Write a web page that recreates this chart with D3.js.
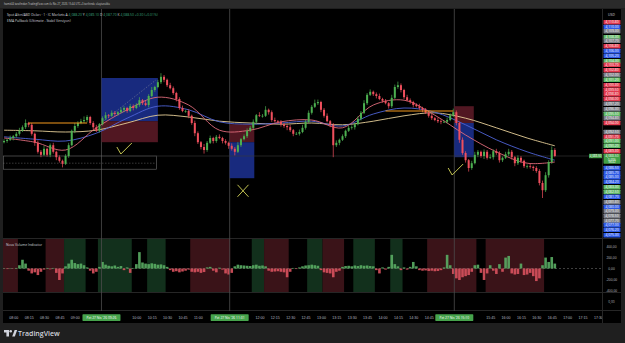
<!DOCTYPE html>
<html>
<head>
<meta charset="utf-8">
<script src="https://cdn.jsdelivr.net/npm/d3@7"></script>
<style>
html, body {margin: 0; padding: 0; background: #1f1f1f;}
svg {display: block; font-family: "Open Sans", "Noto Sans", sans-serif;}
</style>
</head>
<body>
<div class="chart"></div>
<script>
let FRAME_WIDTH = 625;
let FRAME_HEIGHT = 343;
let PLOT = {left: 3, right: 602, top: 9, bottom: 238};
let IND = {top: 239, bottom: 292};

// 3 minute candles, first one 07:51
const closes = [
  4091.0,4091.2,4091.5,4091.8,4092.2,4092.7,4093.3,4094.0,4093.7,4092.2,4090.7,4089.2,4088.7,4089.7,4088.7,4090.3,4089.2,4088.3,4087.7,4087.2,
  4088.5,4090.3,4092.7,4093.5,4094.0,4094.3,4094.5,4095.0,4094.0,4093.3,4092.7,4093.8,4094.8,4095.3,4095.2,4095.7,4095.5,4095.8,4096.2,4096.5,
  4096.0,4096.8,4096.5,4097.0,4097.8,4097.3,4097.0,4098.5,4099.5,4100.0,4100.8,4101.7,4101.2,4100.3,4099.8,4099.0,4098.0,4096.5,4096.0,4096.0,
  4095.2,4094.0,4092.3,4090.8,4090.0,4089.5,4090.7,4091.5,4091.0,4091.7,4091.5,4091.0,4090.7,4090.2,4089.7,4089.2,4090.3,4091.3,4091.8,4092.7,
  4093.2,4094.2,4095.3,4095.2,4095.2,4096.2,4095.8,4094.5,4094.3,4094.2,4093.8,4093.5,4093.3,4092.8,4092.2,4092.2,4092.5,4093.2,4094.2,4095.7,
  4096.7,4097.3,4097.5,4096.2,4095.2,4094.3,4093.7,4090.3,4090.7,4091.2,4091.8,4092.7,4093.2,4093.3,4093.8,4094.7,4095.7,4097.3,4098.7,4099.2,
  4098.8,4098.5,4098.0,4097.7,4097.3,4096.8,4098.2,4100.0,4100.3,4099.5,4098.3,4097.8,4097.5,4097.0,4096.8,4096.5,4096.2,4095.7,4095.2,4094.8,
  4094.5,4094.3,4094.2,4094.2,4094.5,4095.3,4095.8,4094.0,4091.2,4089.0,4087.8,4086.5,4087.3,4088.7,4089.2,4088.5,4089.2,4088.2,4088.3,4089.3,
  4089.0,4087.8,4088.2,4088.8,4089.2,4088.3,4087.3,4088.2,4087.7,4086.8,4086.8,4086.7,4086.5,4086.0,4084.0,4082.8,4085.3,4087.5,4089.5,4088.5
];
// wick length above / below the body, in tenths of a dollar
const wickUp = [
  3,2,4,2,3,5,3,6,2,3,2,4,3,5,2,3,4,2,3,2,
  3,4,2,5,3,4,6,3,2,3,4,2,3,5,2,4,3,2,4,3,
  2,4,3,3,5,2,4,3,5,2,4,6,3,2,4,3,2,3,4,2,
  3,2,4,3,2,5,3,4,2,3,4,2,3,2,4,3,5,2,3,4,
  3,4,2,5,3,6,2,3,4,2,3,2,3,4,2,3,4,5,3,4,
  3,6,4,2,3,4,2,3,4,2,3,2,4,3,2,4,3,5,3,4,
  2,3,4,2,3,2,5,4,6,3,2,4,3,2,3,4,2,3,2,3,
  2,4,3,2,4,3,6,3,2,4,3,2,4,5,3,2,4,3,5,3,
  4,3,2,4,5,3,2,4,3,2,3,4,2,3,3,4,5,3,6,3
];
const wickDn = [
  2,3,2,4,2,3,2,3,4,3,5,3,4,2,3,4,3,5,3,6,
  2,3,2,4,3,2,3,4,3,5,2,3,2,3,4,2,3,3,2,4,
  3,2,4,2,3,3,2,4,2,3,2,3,4,3,2,3,4,3,2,3,
  4,3,5,3,4,6,3,2,4,3,2,4,3,5,3,6,2,3,2,3,
  2,3,4,2,3,2,4,3,2,3,4,3,5,3,4,2,3,2,3,2,
  3,2,3,4,3,2,4,20,3,4,2,3,2,3,4,2,3,2,3,2,
  3,4,2,3,2,4,3,2,3,4,3,2,3,4,2,3,4,2,3,3,
  2,3,4,2,3,2,3,4,5,3,4,6,3,2,4,3,5,3,2,4,
  3,4,3,2,3,4,5,3,4,3,4,3,5,3,4,13,3,4,3,2
];

// volume indicator
const volFlow = [
  5,-10,8,-5,10,60,160,90,-40,-90,-70,-120,-60,-20,10,-15,10,-80,-210,-90,
  40,90,160,100,80,90,60,20,-40,-90,-60,30,120,70,50,40,55,30,45,-30,
  20,-80,10,80,300,110,90,80,95,85,70,75,60,30,-30,-60,-50,-70,-55,-40,
  -20,-60,-70,-60,-80,-65,20,30,-40,-70,15,-20,-90,-110,-80,40,70,60,55,50,
  45,60,70,50,55,40,-40,-60,-55,-50,-60,-70,-160,-60,10,-10,20,40,55,60,
  70,60,50,-30,-70,-80,-90,-160,-60,-40,30,45,50,40,55,45,60,50,55,45,
  40,-30,-90,20,-20,30,250,80,40,-30,20,-20,30,120,40,-30,-40,-35,-45,-40,
  -50,-45,-30,20,250,60,-100,-180,-210,-160,-140,-120,-60,60,70,-80,-210,-90,60,-40,
  -100,80,-60,200,230,-90,-110,-100,90,-120,-110,-80,-140,-230,-180,60,200,120,210,90
];
const bandStart = [0,14,20,31,47,61,81,85,99,104,114,126,138,157];
const bandEnd   = [5,20,27,42,53,74,85,93,104,111,121,130,154,176];
const bandKind  = ["d","d","u","u","u","d","u","d","u","d","u","u","d","d"];
const indTicks = [400, 200, 0, -200, -400];

// EMA lines, sampled at candle indices
const emaIdx  = [0,10,20,30,40,50,60,70,80,90,100,110,120,130,140,150,160,170,179];
const emaSlow = [4092.8,4092.7,4092.5,4092.8,4094.0,4095.3,4095.0,4094.3,4094.0,4093.8,4094.0,4093.7,4094.3,4095.2,4095.7,4094.8,4093.2,4091.5,4090.2];
const emaMid  = [4091.7,4091.3,4091.0,4092.3,4094.8,4096.8,4096.2,4094.2,4093.8,4094.0,4094.3,4093.5,4095.5,4096.5,4095.8,4093.7,4091.2,4089.2,4087.8];
const emaFast = [4091.5,4090.8,4089.5,4093.2,4096.2,4098.3,4097.0,4092.8,4092.8,4094.2,4094.5,4093.2,4097.0,4097.8,4095.3,4092.0,4089.2,4087.3,4087.5];

// orange levels
const levelFrom  = [8, 124];
const levelTo    = [27, 146];
const levelPrice = [4094.0, 4096.0];

// position tools
const posStart  = ["09:26", "11:31", "15:10"];
const posEnd    = ["10:21", "11:55", "15:29"];
const posTop    = [4101.5, 4093.8, 4096.8];
const posEntry  = [4094.3, 4090.8, 4094.0];
const posBottom = [4090.8, 4084.8, 4088.3];
const posSide   = ["long", "short", "short"];

const vLines = ["09:26", "11:31", "15:10"];
const vLineLabels = ["Pzt 27 Nis '26 09:26", "Pzt 27 Nis '26 11:31", "Pzt 27 Nis '26 15:10"];

// price scale labels on the right
const axisPrices = [4110.80,4110.00,4109.30,4108.30,4107.70,4106.80,4106.00,4105.20,4104.30,4103.70,4102.80,4102.00,4101.20,4100.30,4099.50,4098.80,4098.00,4097.20,4096.30,4095.50,4094.80,4094.00,
  4092.50,4091.70,4091.00,4090.20,4089.30,4086.50,4085.70,4085.00,4084.20,4083.30,4082.50,4081.70,4080.80,4080.00,4079.30,4078.50,4077.70,4077.00,4076.20,4075.30];
const axisColors = ["r","b","k","g","k","r","b","b","g","r","r","k","g","r","r","r","r","k","k","g","k","r",
  "k","r","g","g","r","b","b","b","b","g","g","b","k","b","k","k","k","b","b","b"];
const COLORS = {r: "#e23a4e", b: "#2f5be6", g: "#5fb866", k: "#7d7f88"};

// rectangle, lower left
const boxFrom = "07:50", boxTo = "10:19", boxTop = 4088.5, boxMid = 4087.3, boxBot = 4086.3;

// hand marks: checks and cross
const checkAt = [["09:41", 4090.0], ["15:04", 4086.5]];
const crossAt = [["11:44", 4082.7]];

const day = (s) => { let p = s.split(":").map(Number); return new Date(2026, 3, 27, p[0], p[1]); };
const barTime = (i) => new Date(2026, 3, 27, 7, 51 + 3 * i);

const X_SCALE = d3.scaleTime().domain([day("07:50"), day("17:34")]).range([PLOT.left, PLOT.right]);
const Y_SCALE = d3.scaleLinear().domain([4075, 4113]).range([237, 9]);
const IND_SCALE = d3.scaleLinear().domain([-430, 540]).range([IND.bottom, IND.top]);

let FRAME = d3.select(".chart").append("svg")
    .attr("width", FRAME_WIDTH)
    .attr("height", FRAME_HEIGHT);

// frame
FRAME.append("rect").attr("width", FRAME_WIDTH).attr("height", FRAME_HEIGHT).attr("fill", "#1f1f1f");
FRAME.append("rect").attr("width", FRAME_WIDTH).attr("height", 8).attr("fill", "#2a2a2a");
FRAME.append("text").attr("x", 4).attr("y", 5.3).attr("font-size", "2.6px").attr("fill", "#c9c9c9")
    .text("hamit44 tarafından TradingView.com ile Nis 27, 2026 15:44 UTC+3 tarihinde oluşturuldu");
FRAME.append("rect").attr("x", 3).attr("y", 9).attr("width", 618).attr("height", 314).attr("fill", "#000");

let defs = FRAME.append("defs");
defs.append("clipPath").attr("id", "clipPlot").append("rect")
    .attr("x", PLOT.left).attr("y", PLOT.top).attr("width", PLOT.right - PLOT.left).attr("height", PLOT.bottom - PLOT.top);
defs.append("clipPath").attr("id", "clipInd").append("rect")
    .attr("x", PLOT.left).attr("y", IND.top).attr("width", PLOT.right - PLOT.left).attr("height", IND.bottom - IND.top);
defs.append("clipPath").attr("id", "clipX").append("rect")
    .attr("x", PLOT.left).attr("y", 310).attr("width", PLOT.right - PLOT.left).attr("height", 13);

// indicator pane: background bands
let indG = FRAME.append("g").attr("clip-path", "url(#clipInd)");
indG.selectAll(".band").data(bandStart).enter().append("rect")
    .attr("x", (d) => X_SCALE(barTime(d)) - 1.5)
    .attr("y", IND.top)
    .attr("width", (d, i) => X_SCALE(barTime(bandEnd[i])) - X_SCALE(barTime(d)))
    .attr("height", IND.bottom - IND.top)
    .attr("fill", (d, i) => bandKind[i] == "u" ? "#12301c" : "#3a1318");

indG.append("line")
    .attr("x1", PLOT.left).attr("x2", PLOT.right)
    .attr("y1", IND_SCALE(0)).attr("y2", IND_SCALE(0))
    .attr("stroke", "#6a6a6a").attr("stroke-width", 0.6).attr("stroke-dasharray", "2,2");

indG.selectAll(".vol").data(volFlow).enter().append("rect")
    .attr("x", (d, i) => X_SCALE(barTime(i)) - 1.3)
    .attr("y", (d) => Math.min(IND_SCALE(d), IND_SCALE(0)))
    .attr("width", 2.6)
    .attr("height", (d) => Math.abs(IND_SCALE(d) - IND_SCALE(0)))
    .attr("fill", (d) => d >= 0 ? "#5aae64" : "#d9525e")
    .attr("opacity", 0.9);

FRAME.append("text").attr("x", 6).attr("y", 245.5).attr("font-size", "3.4px").attr("fill", "#d1d4dc")
    .text("Nova Volume Indicator");

// pane separators
[238.5, 292.5, 310.5].forEach((y) => {
    FRAME.append("line").attr("x1", 3).attr("x2", 621).attr("y1", y).attr("y2", y)
        .attr("stroke", "#262626").attr("stroke-width", 1);
});
FRAME.append("line").attr("x1", 602.5).attr("x2", 602.5).attr("y1", 9).attr("y2", 323)
    .attr("stroke", "#262626").attr("stroke-width", 1);

// vertical lines
FRAME.selectAll(".vline").data(vLines).enter().append("line")
    .attr("x1", (d) => X_SCALE(day(d))).attr("x2", (d) => X_SCALE(day(d)))
    .attr("y1", 9).attr("y2", 311)
    .attr("stroke", "#4d4d4d").attr("stroke-width", 0.8);

let plotG = FRAME.append("g").attr("clip-path", "url(#clipPlot)");

// position tools
posStart.forEach((s, i) => {
    let x0 = X_SCALE(day(s)), x1 = X_SCALE(day(posEnd[i]));
    let yT = Y_SCALE(posTop[i]), yE = Y_SCALE(posEntry[i]), yB = Y_SCALE(posBottom[i]);
    let long = posSide[i] == "long";
    plotG.append("rect").attr("x", x0).attr("y", yT).attr("width", x1 - x0).attr("height", yE - yT)
        .attr("fill", long ? "#1b2f8c" : "#5a1a26").attr("opacity", 0.9);
    plotG.append("rect").attr("x", x0).attr("y", yE).attr("width", x1 - x0).attr("height", yB - yE)
        .attr("fill", long ? "#5a1a26" : "#1b2f8c").attr("opacity", 0.9);
    if (long) {
        plotG.append("line").attr("x1", x0 + 2).attr("y1", yE).attr("x2", x1 - 2).attr("y2", yT + 2)
            .attr("stroke", "#8a8fa0").attr("stroke-width", 0.5).attr("stroke-dasharray", "1.5,1.5");
    }
});

// rectangle with midline, and horizontal line
let rx0 = X_SCALE(day(boxFrom)), rx1 = X_SCALE(day(boxTo));
plotG.append("rect").attr("x", rx0 + 0.5).attr("y", Y_SCALE(boxTop)).attr("width", rx1 - rx0)
    .attr("height", Y_SCALE(boxBot) - Y_SCALE(boxTop))
    .attr("fill", "none").attr("stroke", "#6f6f6f").attr("stroke-width", 0.6);
plotG.append("line").attr("x1", rx0).attr("x2", rx1).attr("y1", Y_SCALE(boxMid)).attr("y2", Y_SCALE(boxMid))
    .attr("stroke", "#6f6f6f").attr("stroke-width", 0.5).attr("stroke-dasharray", "1.5,1.5");
plotG.append("line").attr("x1", rx1).attr("x2", PLOT.right).attr("y1", Y_SCALE(boxTop)).attr("y2", Y_SCALE(boxTop))
    .attr("stroke", "#3a3a3a").attr("stroke-width", 0.6);

// EMAs
let emaLine = (vals) => d3.line()
    .x((d, i) => X_SCALE(barTime(emaIdx[i])))
    .y((d) => Y_SCALE(d))
    .curve(d3.curveCatmullRom)(vals);
[[emaSlow, "#e6cf98"], [emaMid, "#4e63d6"], [emaFast, "#df6b7a"]].forEach((e) => {
    plotG.append("path").attr("d", emaLine(e[0])).attr("fill", "none")
        .attr("stroke", e[1]).attr("stroke-width", 0.9);
});

// candles
let openOf = (i) => i == 0 ? 4090.8 : closes[i - 1];
let candles = plotG.selectAll(".candle").data(closes).enter().append("g");
candles.append("line")
    .attr("x1", (d, i) => X_SCALE(barTime(i))).attr("x2", (d, i) => X_SCALE(barTime(i)))
    .attr("y1", (d, i) => Y_SCALE(Math.max(openOf(i), d) + wickUp[i] / 10))
    .attr("y2", (d, i) => Y_SCALE(Math.min(openOf(i), d) - wickDn[i] / 10))
    .attr("stroke", (d, i) => d >= openOf(i) ? "#4caf50" : "#ef4f5d")
    .attr("stroke-width", 0.7);
candles.append("rect")
    .attr("x", (d, i) => X_SCALE(barTime(i)) - 1)
    .attr("y", (d, i) => Y_SCALE(Math.max(openOf(i), d)))
    .attr("width", 2)
    .attr("height", (d, i) => Math.max(0.7, Math.abs(Y_SCALE(openOf(i)) - Y_SCALE(d))))
    .attr("fill", (d, i) => d >= openOf(i) ? "#4caf50" : "#ef4f5d");

// orange levels
levelFrom.forEach((f, i) => {
    plotG.append("line")
        .attr("x1", X_SCALE(barTime(f))).attr("x2", X_SCALE(barTime(levelTo[i])))
        .attr("y1", Y_SCALE(levelPrice[i])).attr("y2", Y_SCALE(levelPrice[i]))
        .attr("stroke", "#f59a1c").attr("stroke-width", 1.1);
});

// marks
checkAt.forEach((c) => {
    let x = X_SCALE(day(c[0])), y = Y_SCALE(c[1]);
    plotG.append("path").attr("d", `M${x},${y} L${x + 4},${y + 7} L${x + 15},${y - 4}`)
        .attr("fill", "none").attr("stroke", "#d8d85a").attr("stroke-width", 0.9);
});
crossAt.forEach((c) => {
    let x = X_SCALE(day(c[0])), y = Y_SCALE(c[1]);
    plotG.append("path").attr("d", `M${x - 5.5},${y - 6} L${x + 5.5},${y + 6} M${x + 5.5},${y - 6} L${x - 5.5},${y + 6}`)
        .attr("fill", "none").attr("stroke", "#d8d85a").attr("stroke-width", 0.9);
});

// legend
let leg = FRAME.append("text").attr("x", 7).attr("y", 15.6).attr("font-size", "3.4px").attr("fill", "#d1d4dc");
leg.append("tspan").text("Spot Altın/ABD Doları · 1 · IC Markets  A ");
leg.append("tspan").attr("fill", "#3aa07a").text("4,088.20 ");
leg.append("tspan").text("Y ");
leg.append("tspan").attr("fill", "#3aa07a").text("4,089.10 ");
leg.append("tspan").text("D ");
leg.append("tspan").attr("fill", "#3aa07a").text("4,087.70 ");
leg.append("tspan").text("K ");
leg.append("tspan").attr("fill", "#3aa07a").text("4,088.50  +0.30 (+0.01%)");
FRAME.append("text").attr("x", 7).attr("y", 21.6).attr("font-size", "3.4px").attr("fill", "#d1d4dc")
    .text("EMA Pullback (Ultimate - Stabil Versiyon)");

// price axis
FRAME.append("text").attr("x", 611.5).attr("y", 16).attr("text-anchor", "middle")
    .attr("font-size", "3.4px").attr("fill", "#d1d4dc").text("USD");
let fmt = d3.format(",.2f");
let pl = FRAME.selectAll(".plabel").data(axisPrices).enter().append("g");
pl.append("rect").attr("x", 603.5).attr("y", (d) => Y_SCALE(d) - 2.3)
    .attr("width", 17).attr("height", 4.6).attr("rx", 0.6)
    .attr("fill", (d, i) => COLORS[axisColors[i]]);
pl.append("text").attr("x", 612).attr("y", (d) => Y_SCALE(d) + 1.2).attr("text-anchor", "middle")
    .attr("font-size", "3.3px").attr("fill", "#fff").text((d) => fmt(d));

// last price label
let last = closes[closes.length - 1];
FRAME.append("rect").attr("x", 603.5).attr("y", Y_SCALE(last) - 2.3).attr("width", 17).attr("height", 10)
    .attr("rx", 0.6).attr("fill", "#43a047");
FRAME.append("text").attr("x", 612).attr("y", Y_SCALE(last) + 1.3).attr("text-anchor", "middle")
    .attr("font-size", "3.3px").attr("fill", "#fff").text(fmt(last));
FRAME.append("text").attr("x", 612).attr("y", Y_SCALE(last) + 4.6).attr("text-anchor", "middle")
    .attr("font-size", "2.8px").attr("fill", "#fff").text("0,00%");
FRAME.append("text").attr("x", 612).attr("y", Y_SCALE(last) + 7.4).attr("text-anchor", "middle")
    .attr("font-size", "2.8px").attr("fill", "#fff").text("00:42");
FRAME.append("rect").attr("x", 589).attr("y", Y_SCALE(last) - 2.2).attr("width", 13).attr("height", 4.4)
    .attr("fill", "#43a047");
FRAME.append("text").attr("x", 595.5).attr("y", Y_SCALE(last) + 1.1).attr("text-anchor", "middle")
    .attr("font-size", "2.9px").attr("fill", "#fff").text(fmt(last));

// indicator axis
let indAxis = FRAME.append("g").attr("transform", "translate(611.5,0)")
    .call(d3.axisRight(IND_SCALE).tickValues(indTicks).tickSize(0).tickPadding(0)
        .tickFormat((d) => (d < 0 ? "-" : "") + d3.format(".2f")(Math.abs(d)).replace(".", ",")));
indAxis.select(".domain").remove();
indAxis.selectAll("text").attr("text-anchor", "middle").attr("x", 0)
    .attr("font-size", "3.3px").attr("font-family", null).attr("fill", "#b2b5be");
FRAME.append("text").attr("x", 611.5).attr("y", 302.5).attr("text-anchor", "middle")
    .attr("font-size", "3.3px").attr("fill", "#b2b5be").text("0,00");

// time axis, labels under the green date boxes are hidden like in TradingView
let vlx = vLines.map((d) => X_SCALE(day(d)));
let timeClip = FRAME.append("g").attr("clip-path", "url(#clipX)");
let timeAxis = timeClip.append("g").attr("transform", "translate(0,316.3)")
    .call(d3.axisBottom(X_SCALE).ticks(d3.timeMinute.every(15)).tickFormat(d3.timeFormat("%H:%M"))
        .tickSize(0).tickPadding(0));
timeAxis.select(".domain").remove();
timeAxis.selectAll(".tick").filter((d) => vlx.some((x) => Math.abs(X_SCALE(d) - x) < 24)).remove();
timeAxis.selectAll("text").attr("font-size", "3.6px").attr("font-family", null).attr("fill", "#b7bac2");

let vl = FRAME.selectAll(".vlabel").data(vLines).enter().append("g");
vl.append("rect").attr("x", (d) => X_SCALE(day(d)) - 19).attr("y", 314.3).attr("width", 38).attr("height", 6.6)
    .attr("rx", 0.6).attr("fill", "#46a34c");
vl.append("text").attr("x", (d) => X_SCALE(day(d))).attr("y", 318.9).attr("text-anchor", "middle")
    .attr("font-size", "3.3px").attr("fill", "#fff").text((d, i) => vLineLabels[i]);

// footer
FRAME.append("path").attr("d", "M4,330 h5 v6.5 h-2.6 v-4 h-2.4 z").attr("fill", "#d1d4dc");
FRAME.append("circle").attr("cx", 10.7).attr("cy", 331.3).attr("r", 1.3).attr("fill", "#d1d4dc");
FRAME.append("path").attr("d", "M12.2,336.5 l2.4,-6.5 h2.6 l-2.4,6.5 z").attr("fill", "#d1d4dc");
FRAME.append("text").attr("x", 18).attr("y", 336.4).attr("font-size", "7px").attr("font-weight", 600)
    .attr("fill", "#d1d4dc").text("TradingView");
</script>
</body>
</html>
